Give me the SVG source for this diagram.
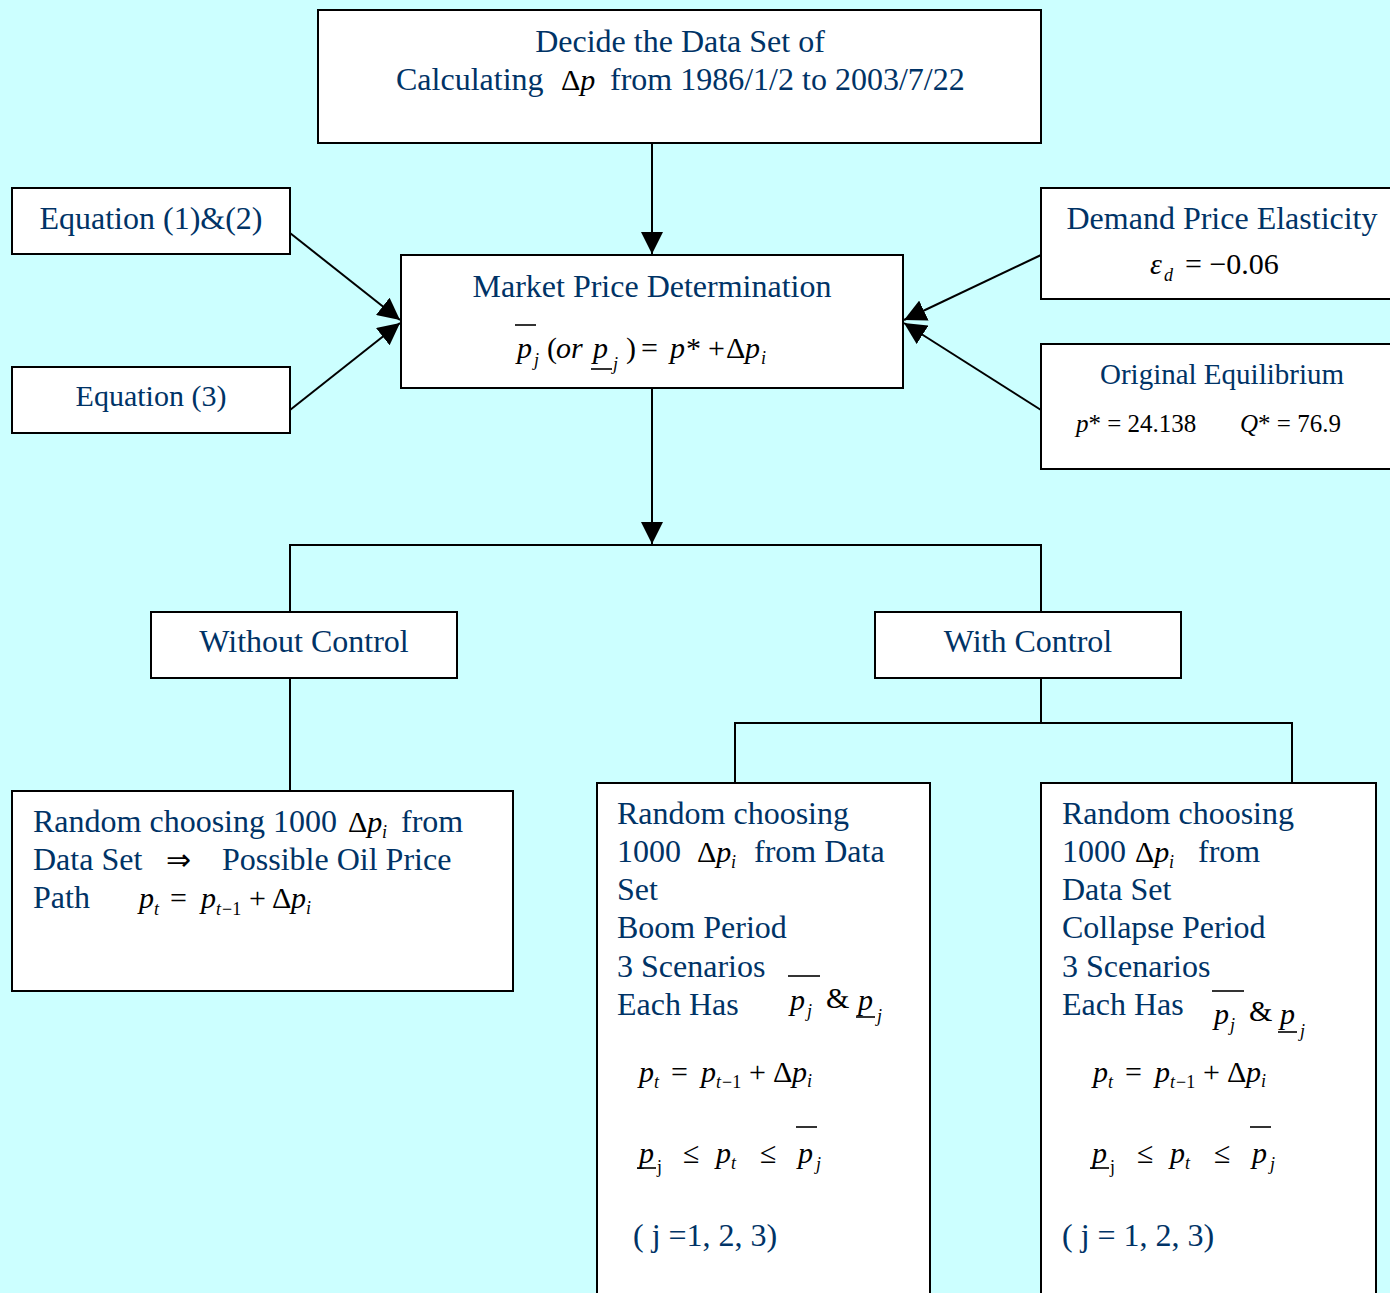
<svg xmlns="http://www.w3.org/2000/svg" width="1390" height="1293" viewBox="0 0 1390 1293">
<style>
.box{fill:#ffffff;stroke:#000000;stroke-width:2}
.ln{fill:none;stroke:#000000;stroke-width:2}
.bar{stroke:#000000;stroke-width:1.6}
.t{font-family:"Liberation Serif","Times New Roman",serif;font-size:32px;fill:#003366}
.m{font-family:"Liberation Serif","Times New Roman",serif;font-size:30px;fill:#000000}
.mi{font-family:"Liberation Serif","Times New Roman",serif;font-size:30px;fill:#000000;font-style:italic}
.s{font-family:"Liberation Serif","Times New Roman",serif;font-size:18px;fill:#000000;font-style:italic}
.su{font-family:"Liberation Serif","Times New Roman",serif;font-size:18px;fill:#000000}
.e{font-family:"Liberation Serif","Times New Roman",serif;font-size:25px;fill:#000000}
</style>
<defs>
<marker id="ah" markerUnits="userSpaceOnUse" markerWidth="22" markerHeight="22" refX="20" refY="10" orient="auto" viewBox="0 0 20 20">
<path d="M0,0 L20,10 L0,20 z" fill="#000000"/>
</marker>
</defs>
<rect x="0" y="0" width="1390" height="1293" fill="#ccffff"/>

<g id="connectors">
<line class="ln" x1="652" y1="143" x2="652" y2="254" marker-end="url(#ah)"/>
<line class="ln" x1="290" y1="233" x2="400" y2="320" marker-end="url(#ah)"/>
<line class="ln" x1="290" y1="410" x2="400" y2="323" marker-end="url(#ah)"/>
<line class="ln" x1="1041" y1="255" x2="904" y2="320" marker-end="url(#ah)"/>
<line class="ln" x1="1041" y1="410" x2="904" y2="323" marker-end="url(#ah)"/>
<line class="ln" x1="652" y1="388" x2="652" y2="544" marker-end="url(#ah)"/>
<polyline class="ln" points="290,612 290,545 1041,545 1041,612"/>
<line class="ln" x1="290" y1="678" x2="290" y2="791"/>
<line class="ln" x1="1041" y1="678" x2="1041" y2="723"/>
<polyline class="ln" points="735,783 735,723 1292,723 1292,783"/>
</g>

<g id="node-top">
<rect class="box" x="318" y="10" width="723" height="133"/>
<text class="t" x="680" y="52" text-anchor="middle">Decide the Data Set of</text>
<text class="t" x="396" y="90">Calculating</text>
<text class="m" x="561" y="90">Δ<tspan font-style="italic">p</tspan></text>
<text class="t" x="610" y="90">from 1986/1/2 to 2003/7/22</text>
</g>

<g id="node-eq12">
<rect class="box" x="12" y="188" width="278" height="66"/>
<text class="t" x="151" y="229" text-anchor="middle">Equation (1)&amp;(2)</text>
</g>

<g id="node-eq3">
<rect class="box" x="12" y="367" width="278" height="66"/>
<text class="t" x="151" y="406" text-anchor="middle" style="font-size:30px">Equation (3)</text>
</g>

<g id="node-market">
<rect class="box" x="401" y="255" width="502" height="133"/>
<text class="t" x="652" y="297" text-anchor="middle">Market Price Determination</text>
<text class="mi" x="517" y="358">p</text>
<line class="bar" x1="515" y1="325" x2="536" y2="325"/>
<text class="s" x="534" y="366">j</text>
<text class="m" x="547" y="358">(</text>
<text class="mi" x="556" y="358">or</text>
<text class="mi" x="593" y="358">p</text>
<line class="bar" x1="591" y1="369" x2="612" y2="369"/>
<text class="s" x="613" y="370">j</text>
<text class="m" x="626" y="358">)</text>
<text class="m" x="641" y="358">=</text>
<text class="mi" x="670" y="358">p</text>
<text class="m" x="686" y="358">*</text>
<text class="m" x="708" y="358">+</text>
<text class="m" x="726" y="358">Δ</text>
<text class="mi" x="745" y="358">p</text>
<text class="s" x="761" y="364">i</text>
</g>

<g id="node-demand">
<rect class="box" x="1041" y="188" width="360" height="111"/>
<text class="t" x="1222" y="229" text-anchor="middle">Demand Price Elasticity</text>
<text class="mi" x="1150" y="274">ε</text>
<text class="s" x="1164" y="281">d</text>
<text class="m" x="1185" y="274">= −0.06</text>
</g>

<g id="node-equilibrium">
<rect class="box" x="1041" y="344" width="360" height="125"/>
<text class="t" x="1222" y="384" text-anchor="middle" style="font-size:29px">Original Equilibrium</text>
<text class="e" x="1076" y="432"><tspan font-style="italic">p</tspan>* = 24.138</text>
<text class="e" x="1240" y="432"><tspan font-style="italic">Q</tspan>* = 76.9</text>
</g>

<g id="node-without">
<rect class="box" x="151" y="612" width="306" height="66"/>
<text class="t" x="304" y="652" text-anchor="middle">Without Control</text>
</g>

<g id="node-with">
<rect class="box" x="875" y="612" width="306" height="66"/>
<text class="t" x="1028" y="652" text-anchor="middle">With Control</text>
</g>

<g id="node-random-left">
<rect class="box" x="12" y="791" width="501" height="200"/>
<text class="t" x="33" y="832">Random choosing 1000</text>
<text class="m" x="348" y="832">Δ<tspan font-style="italic">p</tspan></text>
<text class="s" x="382" y="838">i</text>
<text class="t" x="401" y="832">from</text>
<text class="t" x="33" y="870">Data Set</text>
<text class="m" x="166" y="870">⇒</text>
<text class="t" x="222" y="870">Possible Oil Price</text>
<text class="t" x="33" y="908">Path</text>
<text class="mi" x="139" y="908">p</text>
<text class="s" x="154" y="915">t</text>
<text class="m" x="170" y="908">=</text>
<text class="mi" x="201" y="908">p</text>
<text class="s" x="216" y="915">t</text><text class="su" x="222" y="915">−1</text>
<text class="m" x="249" y="908">+</text>
<text class="m" x="272" y="908">Δ</text>
<text class="mi" x="291" y="908">p</text>
<text class="s" x="306" y="914">i</text>
</g>

<g id="node-boom">
<rect class="box" x="597" y="783" width="333" height="520"/>
<text class="t" x="617" y="824">Random choosing</text>
<text class="t" x="617" y="862">1000</text>
<text class="m" x="697" y="862">Δ<tspan font-style="italic">p</tspan></text>
<text class="s" x="731" y="868">i</text>
<text class="t" x="754" y="862">from Data</text>
<text class="t" x="617" y="900">Set</text>
<text class="t" x="617" y="938">Boom Period</text>
<text class="t" x="617" y="977">3 Scenarios</text>
<text class="t" x="617" y="1015">Each Has</text>
<text class="mi" x="790" y="1010">p</text>
<line class="bar" x1="788" y1="976" x2="820" y2="976"/>
<text class="s" x="807" y="1017">j</text>
<text class="m" x="826" y="1008">&amp;</text>
<text class="mi" x="858" y="1010">p</text>
<line class="bar" x1="856" y1="1017" x2="875" y2="1017"/>
<text class="s" x="877" y="1022">j</text>
<text class="mi" x="639" y="1082">p</text>
<text class="s" x="654" y="1088">t</text>
<text class="m" x="671" y="1082">=</text>
<text class="mi" x="701" y="1082">p</text>
<text class="s" x="716" y="1088">t</text><text class="su" x="722" y="1088">−1</text>
<text class="m" x="749" y="1082">+</text>
<text class="m" x="773" y="1082">Δ</text>
<text class="mi" x="792" y="1082">p</text>
<text class="s" x="807" y="1087">i</text>
<text class="mi" x="639" y="1163">p</text>
<line class="bar" x1="637" y1="1168" x2="656" y2="1168"/>
<text class="su" x="657" y="1173">j</text>
<text class="m" x="683" y="1163">≤</text>
<text class="mi" x="716" y="1163">p</text>
<text class="s" x="731" y="1169">t</text>
<text class="m" x="760" y="1163">≤</text>
<text class="mi" x="798" y="1163">p</text>
<line class="bar" x1="796" y1="1127" x2="817" y2="1127"/>
<text class="s" x="816" y="1170">j</text>
<text class="t" x="633" y="1246">( j =1, 2, 3)</text>
</g>

<g id="node-collapse">
<rect class="box" x="1041" y="783" width="335" height="520"/>
<text class="t" x="1062" y="824">Random choosing</text>
<text class="t" x="1062" y="862">1000</text>
<text class="m" x="1135" y="862">Δ<tspan font-style="italic">p</tspan></text>
<text class="s" x="1169" y="868">i</text>
<text class="t" x="1198" y="862">from</text>
<text class="t" x="1062" y="900">Data Set</text>
<text class="t" x="1062" y="938">Collapse Period</text>
<text class="t" x="1062" y="977">3 Scenarios</text>
<text class="t" x="1062" y="1015">Each Has</text>
<text class="mi" x="1214" y="1024">p</text>
<line class="bar" x1="1212" y1="991" x2="1244" y2="991"/>
<text class="s" x="1230" y="1031">j</text>
<text class="m" x="1249" y="1021">&amp;</text>
<text class="mi" x="1280" y="1024">p</text>
<line class="bar" x1="1278" y1="1032" x2="1297" y2="1032"/>
<text class="s" x="1300" y="1037">j</text>
<text class="mi" x="1093" y="1082">p</text>
<text class="s" x="1108" y="1088">t</text>
<text class="m" x="1125" y="1082">=</text>
<text class="mi" x="1155" y="1082">p</text>
<text class="s" x="1170" y="1088">t</text><text class="su" x="1176" y="1088">−1</text>
<text class="m" x="1203" y="1082">+</text>
<text class="m" x="1227" y="1082">Δ</text>
<text class="mi" x="1246" y="1082">p</text>
<text class="s" x="1261" y="1087">i</text>
<text class="mi" x="1092" y="1163">p</text>
<line class="bar" x1="1090" y1="1168" x2="1109" y2="1168"/>
<text class="su" x="1110" y="1173">j</text>
<text class="m" x="1137" y="1163">≤</text>
<text class="mi" x="1170" y="1163">p</text>
<text class="s" x="1185" y="1169">t</text>
<text class="m" x="1214" y="1163">≤</text>
<text class="mi" x="1252" y="1163">p</text>
<line class="bar" x1="1250" y1="1127" x2="1271" y2="1127"/>
<text class="s" x="1270" y="1170">j</text>
<text class="t" x="1062" y="1246">( j = 1, 2, 3)</text>
</g>
</svg>
